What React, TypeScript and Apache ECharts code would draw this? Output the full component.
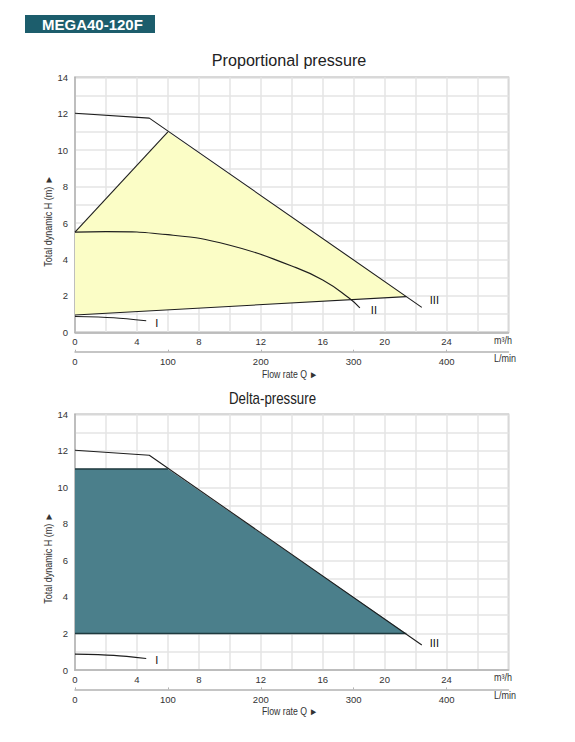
import React, { useEffect, useRef } from "react";
import * as echarts from "echarts";

// ---- data (m³/h, m) ----
const flowMax = 28; // m³/h axis maximum
const headMax = 14; // m axis maximum
const lpmPerM3h = 1000 / 60;
const maxCurve = [[0, 12.03], [4.8, 11.76], [22.4, 1.37]];
const curveI = [[0, 0.87], [2.5, 0.8], [4.6, 0.63]];
const curveII = [[0, 5.5], [2, 5.53], [6, 5.36], [10, 4.78], [14, 3.64], [16, 2.87], [17.7, 1.88], [18.4, 1.34]];
const propArea = [[0, 5.5], [6.0, 11.0], [21.4, 1.96], [0, 0.95]];
const propUpperEdge = [[0, 5.5], [6.0, 11.0]];
const propLowerEdge = [[0, 0.95], [21.4, 1.96]];
const deltaArea = [[0, 11.0], [6.0, 11.0], [21.4, 2.0], [0, 2.0]];
const deltaTop = [[0, 11.0], [6.0, 11.0]];
const deltaBottom = [[0, 2.0], [21.4, 2.0]];
const titles = ["Proportional pressure", "Delta-pressure"];
const modelName = "MEGA40-120F";

const SANS = "'Liberation Sans',Arial,sans-serif";
const AXIS_GRAY = "#b3b3b3";
const SPLIT_GRAY = "#e4e4e4";
const LINE = "#1e1e1e";

const gridTops = [77.3, 414.3];
const gridH = [255, 255.7];

function makeXAxes(gi: number) {
  return [
    {
      type: "value", gridIndex: gi, min: 0, max: flowMax, interval: 2,
      axisLine: { show: true, lineStyle: { color: AXIS_GRAY, width: 1.5 } },
      axisTick: { show: false },
      splitLine: { show: true, lineStyle: { color: SPLIT_GRAY, width: 1.5 } },
      axisLabel: {
        margin: 4, fontSize: 9.5, color: "#333", fontFamily: SANS,
        formatter: (v: number) => (v % 4 === 0 && v < flowMax ? String(v) : ""),
      },
    },
    {
      type: "value", gridIndex: gi, min: 0, max: flowMax * lpmPerM3h, interval: 100,
      position: "bottom", offset: 19.4,
      axisLine: { show: true, lineStyle: { color: AXIS_GRAY, width: 1.5 } },
      axisTick: { show: true, inside: true, length: 2, lineStyle: { color: AXIS_GRAY } },
      splitLine: { show: false },
      axisLabel: {
        margin: 5, fontSize: 9.5, color: "#333", fontFamily: SANS, showMaxLabel: false,
        formatter: (v: number) => (Math.abs(v % 100) < 1e-6 ? String(v) : ""),
      },
    },
  ];
}

function makeYAxis(gi: number) {
  return {
    type: "value", gridIndex: gi, min: 0, max: headMax, interval: 1,
    axisLine: { show: true, lineStyle: { color: AXIS_GRAY, width: 1.5 } },
    axisTick: { show: false },
    splitLine: { show: true, lineStyle: { color: SPLIT_GRAY, width: 1.5 } },
    axisLabel: {
      margin: 7, fontSize: 9.5, color: "#333", fontFamily: SANS,
      formatter: (v: number) => (v % 2 === 0 ? String(v) : ""),
    },
  };
}

function polygonSeries(points: number[][], xi: number, yi: number, fill: string) {
  return {
    type: "custom", xAxisIndex: xi, yAxisIndex: yi, z: 1, silent: true,
    data: [[0, 0]],
    renderItem: (_p: any, api: any) => ({
      type: "polygon",
      shape: { points: points.map((pt) => api.coord(pt)) },
      style: { fill, stroke: "none" },
    }),
  };
}

function lineSeries(data: number[][], xi: number, yi: number, opts: any = {}) {
  const c = opts.color || LINE;
  return {
    type: "line", xAxisIndex: xi, yAxisIndex: yi, z: 3, data,
    color: c,
    showSymbol: false, symbol: "none", silent: true,
    itemStyle: { color: c },
    lineStyle: { color: c, width: opts.width || 1.1 },
    smooth: opts.smooth || false,
    endLabel: opts.label
      ? { show: true, formatter: opts.label, offset: opts.offset, fontSize: 11, color: "#111", fontFamily: SANS }
      : { show: false },
  };
}

export default function App() {
  const ref = useRef<HTMLDivElement>(null);
  useEffect(() => {
    if (!ref.current) return;
    const chart = echarts.init(ref.current, null, { renderer: "svg" });
    const option: any = {
      animation: false,
      backgroundColor: "#ffffff",
      grid: gridTops.map((t, i) => ({
        left: 75, top: t, width: 433.5, height: gridH[i],
        show: true, borderColor: AXIS_GRAY, borderWidth: 1.5, backgroundColor: "transparent",
      })),
      xAxis: [...makeXAxes(0), ...makeXAxes(1)],
      yAxis: [makeYAxis(0), makeYAxis(1)],
      series: [
        // Proportional pressure
        polygonSeries(propArea, 0, 0, "#fbfdc6"),
        lineSeries(propUpperEdge, 0, 0),
        lineSeries(propLowerEdge, 0, 0),
        lineSeries(maxCurve, 0, 0, { label: "III", offset: [0, -7] }),
        lineSeries(curveII, 0, 0, { smooth: 0.5, label: "II", offset: [3, 2] }),
        lineSeries(curveI, 0, 0, { smooth: 0.3, label: "I", offset: [1, 2.5] }),
        // Delta pressure
        polygonSeries(deltaArea, 2, 1, "#4b7f8b"),
        lineSeries(deltaTop, 2, 1, { color: "#1f3a3f", width: 1.5 }),
        lineSeries(deltaBottom, 2, 1, { color: "#1f3a3f", width: 1.5 }),
        lineSeries(maxCurve, 2, 1, { label: "III", offset: [0, -2] }),
        lineSeries(curveI, 2, 1, { smooth: 0.3, label: "I", offset: [1, 2] }),
      ],
      graphic: [
        { type: "rect", shape: { x: 25, y: 15, width: 130, height: 18 }, style: { fill: "#1c5d6c" } },
        {
          type: "text", x: 42, y: 24,
          style: { text: modelName, fill: "#ffffff", font: `bold 15px ${SANS}`, textVerticalAlign: "middle", textAlign: "left" },
        },
        {
          type: "text", x: 289, y: 60, scaleX: 0.98,
          style: { text: titles[0], fill: "#222", font: `16.5px ${SANS}`, textAlign: "center", textVerticalAlign: "middle" },
        },
        {
          type: "text", x: 272.5, y: 399, scaleX: 0.83,
          style: { text: titles[1], fill: "#222", font: `16px ${SANS}`, textAlign: "center", textVerticalAlign: "middle" },
        },
        ...[0, 1].flatMap((i) => {
          const dy = i === 0 ? 0 : 337.2;
          return [
            { type: "text", x: 494, y: 340 + dy, scaleX: 0.9, style: { text: "m³/h", fill: "#333", font: `10px ${SANS}`, textAlign: "left", textVerticalAlign: "middle" } },
            { type: "text", x: 494, y: 358 + dy, scaleX: 0.9, style: { text: "L/min", fill: "#333", font: `10px ${SANS}`, textAlign: "left", textVerticalAlign: "middle" } },
            { type: "text", x: 290, y: 375 + dy, scaleX: 0.87, style: { text: "Flow rate Q ►", fill: "#333", font: `10px ${SANS}`, textAlign: "center", textVerticalAlign: "middle" } },
            {
              type: "text", x: 48, y: 221 + (i === 0 ? 0 : 337), rotation: Math.PI / 2, scaleX: 0.9,
              style: { text: "Total dynamic H (m) ►", fill: "#333", font: `10px ${SANS}`, textAlign: "center", textVerticalAlign: "middle" },
            },
          ];
        }),
      ],
    };
    chart.setOption(option);
    return () => chart.dispose();
  }, []);
  return <div ref={ref} style={{ position: "absolute", left: 0, top: 0, width: 575, height: 742, background: "#fff" }} />;
}
